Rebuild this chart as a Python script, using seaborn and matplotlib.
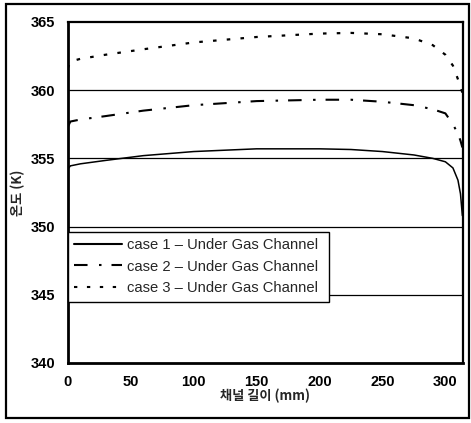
import numpy as np
import pandas as pd
import matplotlib
matplotlib.use("Agg")
import matplotlib.pyplot as plt
import matplotlib.patches as mpatches
import seaborn as sns

# channel length (mm) and temperature (K)
length_mm = [0, 2, 10, 30, 60, 100, 150, 200, 225, 250, 275, 290, 300, 306, 310, 312, 313.5]
case1 = [354.2, 354.45, 354.6, 354.85, 355.2, 355.5, 355.7, 355.7, 355.65, 355.5, 355.25, 355.0, 354.75, 354.3, 353.4, 352.4, 350.8]
case2 = [357.3, 357.7, 357.85, 358.1, 358.5, 358.9, 359.2, 359.3, 359.3, 359.15, 358.9, 358.6, 358.3, 357.5, 356.8, 356.3, 355.8]
case3 = [361.6, 362.1, 362.3, 362.6, 363.0, 363.5, 363.9, 364.15, 364.2, 364.1, 363.8, 363.3, 362.6, 361.8, 360.8, 360.3, 359.8]
labels = ["case 1 \u2013 Under Gas Channel",
          "case 2 \u2013 Under Gas Channel",
          "case 3 \u2013 Under Gas Channel"]
y_ticks = [340, 345, 350, 355, 360, 365]
x_ticks = [0, 50, 100, 150, 200, 250, 300]

df = pd.concat([
    pd.DataFrame({"x": length_mm, "T": vals, "case": lab})
    for vals, lab in zip([case1, case2, case3], labels)
])

sns.set_style("white")
plt.rcParams["font.family"] = ["Liberation Sans", "DejaVu Sans"]

fig = plt.figure(figsize=(4.71, 4.23), dpi=100)
ax = fig.add_axes([0.144, 0.142, 0.839, 0.806])

dashes = {labels[0]: "", labels[1]: (6.5, 5.5, 1.2, 4.8), labels[2]: (1.6, 4.6)}
widths = {labels[0]: 1.1, labels[1]: 1.5, labels[2]: 1.6}
sns.lineplot(data=df, x="x", y="T", style="case", dashes=dashes, color="black",
             linewidth=1.5, ax=ax, legend=True)
for line, lab in zip(ax.get_lines(), labels):
    line.set_linewidth(widths[lab])

for yv in y_ticks[1:-1]:
    ax.axhline(yv, color="black", lw=0.9, zorder=0)

ax.set_xlim(0, 314)
ax.set_ylim(340, 365)
ax.set_xticks(x_ticks)
ax.set_yticks(y_ticks)
ax.tick_params(axis="both", direction="in", length=3, width=1, color="black",
               labelsize=10.5, pad=9, labelcolor="black")
for t in ax.get_xticklabels() + ax.get_yticklabels():
    t.set_fontweight("bold")
for side, w in {"left": 2.0, "bottom": 2.0, "top": 1.6, "right": 1.6}.items():
    ax.spines[side].set_visible(True)
    ax.spines[side].set_color("black")
    ax.spines[side].set_linewidth(w)

ax.set_xlabel("채널 길이 (mm)", family=["Noto Sans CJK KR", "DejaVu Sans"],
              fontsize=9.5, fontweight="bold")
ax.set_ylabel("온도 (K)", family=["Noto Sans CJK KR", "DejaVu Sans"],
              fontsize=9.5, fontweight="bold")
ax.xaxis.set_label_coords(0.5, -0.076)
ax.yaxis.set_label_coords(-0.107, 0.5)

handles, labs = ax.get_legend_handles_labels()
leg = ax.legend(handles, labs, loc="lower left", bbox_to_anchor=(0.0, 0.18, 0.66, 0.2),
                mode="expand", frameon=True, fancybox=False, fontsize=10.6,
                handlelength=3.2, handletextpad=0.4, borderpad=0.45, labelspacing=0.5,
                borderaxespad=0)
leg.get_frame().set_edgecolor("black")
leg.get_frame().set_linewidth(1.0)
leg.get_frame().set_alpha(1)

# outer frame around the figure
frame = mpatches.Rectangle((6 / 471, 5 / 423), 463 / 471, 414 / 423,
                           transform=fig.transFigure, fill=False,
                           edgecolor="black", linewidth=1.6)
fig.patches.append(frame)

fig.savefig("out.png", dpi=100)
